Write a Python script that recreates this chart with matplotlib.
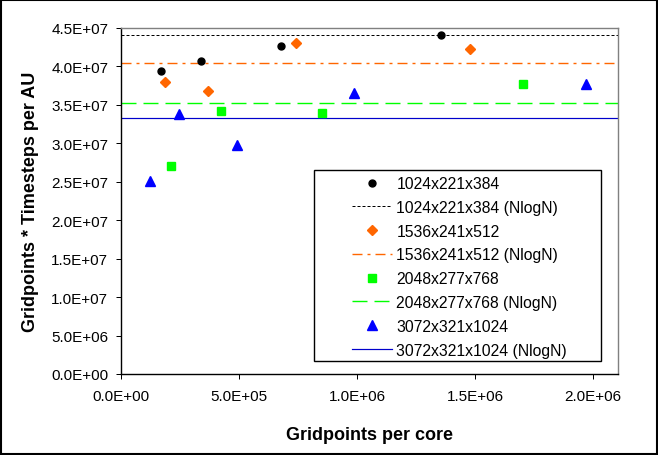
import matplotlib
matplotlib.use("Agg")
import matplotlib.pyplot as plt
from matplotlib.patches import Rectangle

# data
x_1024 = [0.169e6, 0.339e6, 0.679e6, 1.358e6]
y_1024 = [3.94e7, 4.07e7, 4.265e7, 4.41e7]
nlogn_1024 = 4.405e7

x_1536 = [0.185e6, 0.370e6, 0.740e6, 1.480e6]
y_1536 = [3.795e7, 3.675e7, 4.30e7, 4.22e7]
nlogn_1536 = 4.037e7

x_2048 = [0.213e6, 0.425e6, 0.851e6, 1.702e6]
y_2048 = [2.705e7, 3.42e7, 3.395e7, 3.77e7]
nlogn_2048 = 3.517e7

x_3072 = [0.123e6, 0.247e6, 0.493e6, 0.986e6, 1.972e6]
y_3072 = [2.51e7, 3.375e7, 2.98e7, 3.65e7, 3.765e7]
nlogn_3072 = 3.326e7

labels = ["1024x221x384", "1536x241x512", "2048x277x768", "3072x321x1024"]
xticks = [0, 0.5e6, 1.0e6, 1.5e6, 2.0e6]
xticklabels = ["0.0E+00", "5.0E+05", "1.0E+06", "1.5E+06", "2.0E+06"]
yticks = [i * 5e6 for i in range(10)]
yticklabels = ["0.0E+00", "5.0E+06", "1.0E+07", "1.5E+07", "2.0E+07",
               "2.5E+07", "3.0E+07", "3.5E+07", "4.0E+07", "4.5E+07"]

plt.rcParams["font.family"] = ["Liberation Sans", "DejaVu Sans"]
plt.rcParams["lines.scale_dashes"] = False

W, H = 658, 456
fig = plt.figure(figsize=(W / 100, H / 100), dpi=100)
ax = fig.add_axes([121 / W, 1 - 375 / H, (617.7 - 121) / W, (375 - 28.7) / H])

px = 0.72  # one pixel in points
ax.plot(x_1024, y_1024, "o", color="black", ms=5, label=labels[0], zorder=3)
ax.axhline(nlogn_1024, color="black", lw=px, ls=(0, (3 * px, 2 * px)), label=labels[0] + " (NlogN)")
ax.plot(x_1536, y_1536, "D", color="#FF6600", ms=5, label=labels[1], zorder=3)
ax.axhline(nlogn_1536, color="#FF6600", lw=1.4 * px, ls=(0, (10 * px, 5 * px, 3 * px, 5 * px)),
           label=labels[1] + " (NlogN)")
ax.plot(x_2048, y_2048, "s", color="#00FF00", ms=5.3, label=labels[2], zorder=3)
ax.axhline(nlogn_2048, color="#00FF00", lw=1.4 * px, ls=(0, (15 * px, 7 * px)), label=labels[2] + " (NlogN)")
ax.plot(x_3072, y_3072, "^", color="#0000FF", ms=6.5, label=labels[3], zorder=3)
ax.axhline(nlogn_3072, color="#0000CC", lw=1.2 * px, label=labels[3] + " (NlogN)")

ax.set_xlim(0, 2.105e6)
ax.set_ylim(0, 4.5e7)
ax.set_xticks(xticks)
ax.set_xticklabels(xticklabels)
ax.set_yticks(yticks)
ax.set_yticklabels(yticklabels)
ax.tick_params(direction="out", length=3.6, width=px, labelsize=11, color="black")
ax.tick_params(axis="y", pad=5.5)
ax.tick_params(axis="x", pad=7)

for s in ax.spines.values():
    s.set_linewidth(1.4 * px)
ax.spines["top"].set_color("#808080")
ax.spines["right"].set_color("#808080")

ax.set_xlabel("Gridpoints per core", fontsize=13, fontweight="bold")
ax.set_ylabel("Gridpoints * Timesteps per AU", fontsize=13, fontweight="bold")
ax.xaxis.set_label_coords(0.5, -0.15)
ax.yaxis.set_label_coords(-0.166, 0.5)

leg = ax.legend(loc="upper left", bbox_to_anchor=(351.7 / W, 1 - 177 / H),
                bbox_transform=fig.transFigure, frameon=False, fontsize=11.3,
                borderpad=0, handlelength=2.55, handletextpad=0.3, labelspacing=0.56,
                borderaxespad=0)
leg.set_zorder(6)

box = Rectangle((314.3 / W, 1 - 362 / H), (600.7 - 314.3) / W, (362 - 170.7) / H,
                transform=fig.transFigure, facecolor="white", edgecolor="black",
                lw=1.4 * px, zorder=5, clip_on=False)
ax.add_patch(box)

fig.add_artist(Rectangle((0.0015, 0.002), 0.997, 0.996, transform=fig.transFigure,
                         fill=False, edgecolor="black", lw=1.5))

fig.savefig("out.png", dpi=100)
